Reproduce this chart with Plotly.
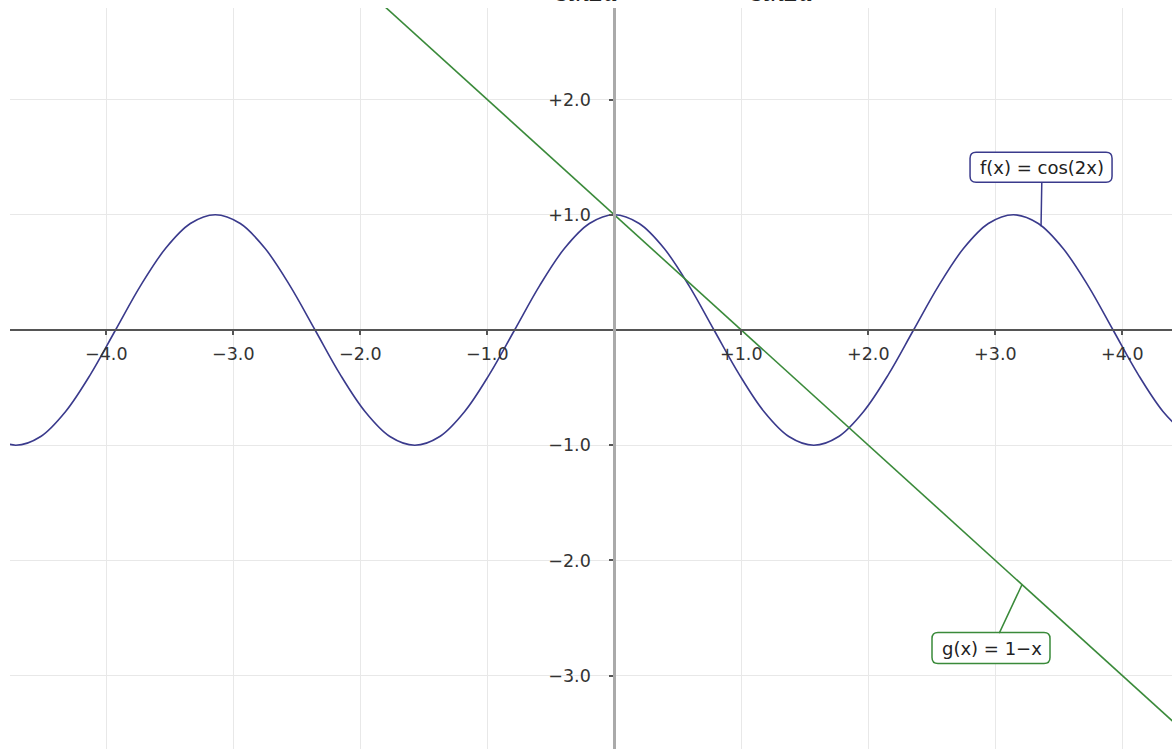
import plotly.graph_objects as go

# f(x) = cos(2x): values at regular steps
f_x = [-4.909, -4.712, -4.516, -4.320, -4.123, -3.927, -3.731, -3.534, -3.338, -3.142,
       -2.945, -2.749, -2.553, -2.356, -2.160, -1.963, -1.767, -1.571, -1.374, -1.178,
       -0.982, -0.785, -0.589, -0.393, -0.196, 0.0, 0.196, 0.393, 0.589, 0.785,
       0.982, 1.178, 1.374, 1.571, 1.767, 1.963, 2.160, 2.356, 2.553, 2.749,
       2.945, 3.142, 3.338, 3.534, 3.731, 3.927, 4.123, 4.320, 4.516]
f_y = [-0.924, -1.0, -0.924, -0.707, -0.383, 0.0, 0.383, 0.707, 0.924, 1.0,
       0.924, 0.707, 0.383, 0.0, -0.383, -0.707, -0.924, -1.0, -0.924, -0.707,
       -0.383, 0.0, 0.383, 0.707, 0.924, 1.0, 0.924, 0.707, 0.383, 0.0,
       -0.383, -0.707, -0.924, -1.0, -0.924, -0.707, -0.383, 0.0, 0.383, 0.707,
       0.924, 1.0, 0.924, 0.707, 0.383, 0.0, -0.383, -0.707, -0.924]

# g(x) = 1 - x
g_x = [-2.0, 5.0]
g_y = [3.0, -4.0]

x_ticks = [-4, -3, -2, -1, 1, 2, 3, 4]
y_ticks = [-3, -2, -1, 1, 2]

f_label = "f(x) = cos(2x)"
g_label = "g(x) = 1\u2212x"
f_label_at = (3.36, 0.90)
g_label_at = (3.21, -2.21)

# partly visible formula text at the very top edge
top_texts = ["sin2u", "sin2u"]
top_text_x = [-0.215, 1.328]

x_range = [-4.758, 4.391]
y_range = [-3.637, 2.795]

f_color = "#3a3a8c"
g_color = "#3a8a3a"
font_family = "DejaVu Sans"


def fmt(v):
    return f"{v:+.1f}".replace("-", "\u2212")


def rounded_box(x0, x1, y0, y1, r=6):
    # pixel offsets relative to the label's anchor point
    return (f"M {x0 + r},{y0} L {x1 - r},{y0} Q {x1},{y0} {x1},{y0 + r} "
            f"L {x1},{y1 - r} Q {x1},{y1} {x1 - r},{y1} L {x0 + r},{y1} "
            f"Q {x0},{y1} {x0},{y1 - r} L {x0},{y0 + r} Q {x0},{y0} {x0 + r},{y0} Z")


fig = go.Figure()
fig.add_trace(go.Scatter(x=f_x, y=f_y, mode="lines",
                         line=dict(color=f_color, width=1.6, shape="spline", smoothing=1.0),
                         hoverinfo="skip", showlegend=False))
fig.add_trace(go.Scatter(x=g_x, y=g_y, mode="lines",
                         line=dict(color=g_color, width=1.6),
                         hoverinfo="skip", showlegend=False))

x_pos = (0 - x_range[0]) / (x_range[1] - x_range[0])
y_pos = (0 - y_range[0]) / (y_range[1] - y_range[0])

fig.update_layout(
    width=1172, height=749,
    margin=dict(l=10, r=0, t=8, b=0),
    paper_bgcolor="white", plot_bgcolor="white",
    font=dict(family=font_family, size=17.5, color="#333333"),
    xaxis=dict(range=x_range, tickmode="array", tickvals=x_ticks,
               ticktext=[fmt(v) for v in x_ticks],
               showgrid=True, gridcolor="#e8e8e8", gridwidth=1,
               zeroline=False, showline=True, linecolor="#555555", linewidth=1.5,
               anchor="free", position=y_pos, side="bottom",
               ticks="outside", ticklen=4, tickcolor="#555555", tickwidth=1.5,
               ticklabelstandoff=4,
               tickfont=dict(size=17.5, color="#333333"), fixedrange=True),
    yaxis=dict(range=y_range, tickmode="array", tickvals=y_ticks,
               ticktext=[fmt(v) for v in y_ticks],
               showgrid=True, gridcolor="#e8e8e8", gridwidth=1,
               zeroline=False, showline=True, linecolor="#aaaaaa", linewidth=3,
               anchor="free", position=x_pos, side="left",
               ticks="outside", ticklen=4, tickcolor="#555555", tickwidth=1.5,
               ticklabelstandoff=15,
               tickfont=dict(size=17.5, color="#333333"), fixedrange=True),
    xaxis2=dict(overlaying="x", matches="x", tickmode="array", tickvals=x_ticks,
                showticklabels=False, showgrid=False, zeroline=False, showline=False,
                anchor="free", position=y_pos, side="bottom",
                ticks="inside", ticklen=4, tickcolor="#555555", tickwidth=1.5),
    yaxis2=dict(overlaying="y", matches="y", tickmode="array", tickvals=y_ticks,
                showticklabels=False, showgrid=False, zeroline=False, showline=False,
                anchor="free", position=x_pos, side="left",
                ticks="inside", ticklen=4, tickcolor="#555555", tickwidth=1.5),
)

# rounded label boxes
fig.add_shape(type="path", xref="x", yref="y", xsizemode="pixel", ysizemode="pixel",
              xanchor=f_label_at[0], yanchor=f_label_at[1],
              path=rounded_box(-71, 71, 44, 74),
              line=dict(color=f_color, width=1.5), fillcolor="white", layer="above")
fig.add_shape(type="path", xref="x", yref="y", xsizemode="pixel", ysizemode="pixel",
              xanchor=g_label_at[0], yanchor=g_label_at[1],
              path=rounded_box(-90, 28, -79, -48),
              line=dict(color=g_color, width=1.5), fillcolor="white", layer="above")

fig.add_annotation(x=f_label_at[0], y=f_label_at[1], text=f_label,
                   showarrow=True, arrowhead=0, arrowwidth=1.5, arrowcolor=f_color,
                   ax=1, ay=-59, borderwidth=0, borderpad=5,
                   font=dict(size=18, color="#222222", family=font_family))
fig.add_annotation(x=g_label_at[0], y=g_label_at[1], text=g_label,
                   showarrow=True, arrowhead=0, arrowwidth=1.5, arrowcolor=g_color,
                   ax=-30, ay=64, borderwidth=0, borderpad=5,
                   font=dict(size=18, color="#222222", family=font_family))

for txt, tx in zip(top_texts, top_text_x):
    fig.add_annotation(x=tx, xref="x", y=1, yref="paper", text=f"<i>{txt}</i>",
                       showarrow=False, yanchor="middle", yshift=17,
                       font=dict(size=28, color="#222222", family="Liberation Serif"))

fig.write_html("out.html",
               config={"displayModeBar": False},
               post_script="document.body.style.margin='0px';document.body.style.overflow='hidden';")
